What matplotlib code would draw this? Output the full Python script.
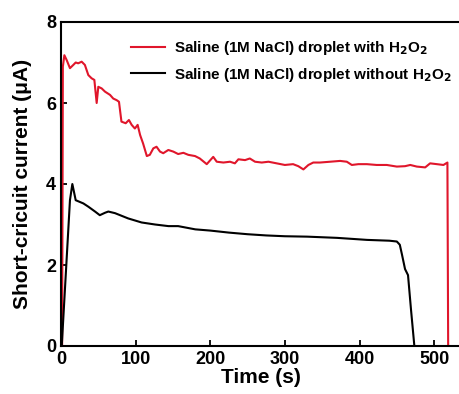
import matplotlib
matplotlib.use("Agg")
import matplotlib.pyplot as plt

plt.rcParams['font.family'] = ['Liberation Sans', 'DejaVu Sans']
plt.rcParams['font.weight'] = 'bold'
plt.rcParams['mathtext.default'] = 'bf'

t_with = [1.5, 2.5, 4.5, 7.6, 12, 16.5, 19.7, 23, 27.7, 32, 36.6, 41, 44.7, 47.8, 50, 54.5, 59, 65.7, 70, 74.6,
          77.7, 81, 86.7, 91, 94.7, 99, 102.7, 106, 110, 115, 119, 123.7, 128, 132.7, 137, 143.8, 150.5,
          157, 164, 170.6, 179.6, 186, 195.3, 204, 208.7, 217.6, 226.5, 233, 237.7, 246.6, 253, 260, 269,
          278, 289, 300, 311, 318, 324.8, 331.5, 338, 347, 360.6, 374, 383, 389.7, 398.5, 409.8, 423,
          436.6, 450, 461, 468, 476.8, 488, 494.6, 503.6, 512.5, 517.8, 518.8]
i_with = [0, 6.9, 7.18, 7.06, 6.86, 6.94, 7.0, 6.98, 7.02, 6.94, 6.69, 6.61, 6.57, 6.0, 6.4, 6.36, 6.28, 6.2,
          6.11, 6.07, 6.03, 5.54, 5.5, 5.58, 5.46, 5.37, 5.46, 5.21, 5.0, 4.69, 4.72, 4.88, 4.92, 4.8, 4.76,
          4.84, 4.8, 4.74, 4.77, 4.72, 4.69, 4.63, 4.49, 4.67, 4.55, 4.53, 4.55, 4.51, 4.61, 4.59, 4.63,
          4.55, 4.53, 4.55, 4.51, 4.47, 4.49, 4.44, 4.36, 4.47, 4.53, 4.53, 4.55, 4.57, 4.55, 4.47, 4.49,
          4.49, 4.47, 4.47, 4.43, 4.44, 4.47, 4.43, 4.41, 4.51, 4.49, 4.47, 4.53, 0]

t_without = [1, 12, 15.2, 19.7, 30, 36.6, 45.6, 52, 59, 63.4, 72.4, 90, 108, 126, 144, 157, 180, 200, 225,
             250, 275, 300, 330, 370, 410, 440, 450, 454, 457, 461, 465, 469, 471, 473.5]
i_without = [0, 3.6, 4.0, 3.6, 3.52, 3.44, 3.32, 3.23, 3.29, 3.32, 3.28, 3.15, 3.05, 3.0, 2.96, 2.96, 2.88,
             2.85, 2.8, 2.76, 2.73, 2.71, 2.7, 2.67, 2.62, 2.6, 2.58, 2.5, 2.25, 1.9, 1.75, 0.9, 0.5, 0]

fig = plt.figure(figsize=(4.6, 3.94), dpi=100)
ax = fig.add_axes([61/460, 48/394, (461-61)/460, (346-22)/394])

ax.plot(t_with, i_with, color='#e0162b', lw=1.5, label=r'Saline (1M NaCl) droplet with H$_2$O$_2$')
ax.plot(t_without, i_without, color='black', lw=1.5, label=r'Saline (1M NaCl) droplet without H$_2$O$_2$')

ax.set_xlim(0, 536)
ax.set_ylim(0, 8)
ax.set_xticks([0, 100, 200, 300, 400, 500])
ax.set_yticks([0, 2, 4, 6, 8])
ax.tick_params(direction='in', labelsize=13, length=4, width=1.3)
for lbl in ax.get_xticklabels() + ax.get_yticklabels():
    lbl.set_fontweight('bold')
for s in ['left', 'bottom', 'top']:
    ax.spines[s].set_linewidth(1.5)
ax.spines['right'].set_visible(False)

ax.set_xlabel('Time (s)', fontsize=15, fontweight='bold', labelpad=0)
ax.set_ylabel('Short-cricuit current (μA)', fontsize=15, fontweight='bold', labelpad=10)

leg = ax.legend(loc='upper right', bbox_to_anchor=(1.0, 0.975), frameon=False, fontsize=11,
                handlelength=2.2, handletextpad=0.6, labelspacing=0.55, borderaxespad=0.2)

fig.savefig('out.png', dpi=100)
